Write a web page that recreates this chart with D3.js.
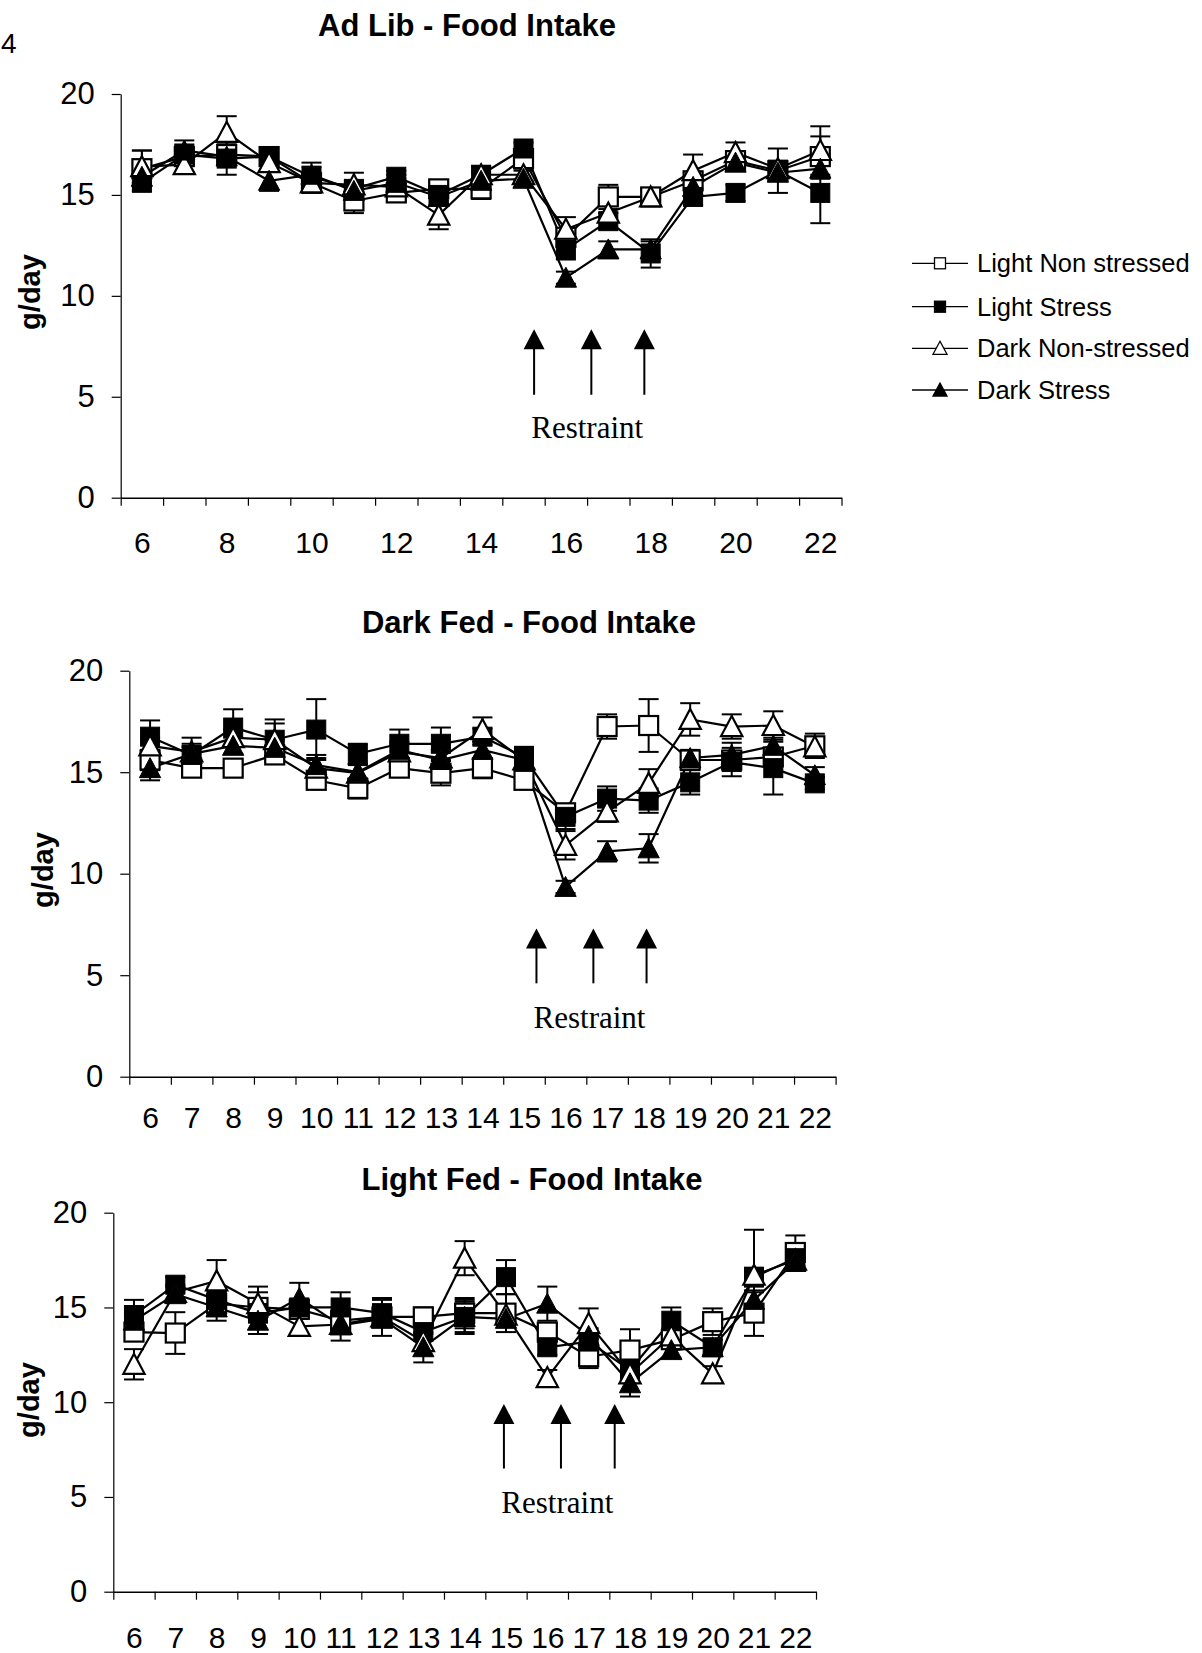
<!DOCTYPE html>
<html>
<head>
<meta charset="utf-8">
<script src="https://cdn.jsdelivr.net/npm/d3@7"></script>
<style>
  html, body { margin: 0; padding: 0; background: #fff; }
  svg { display: block; }
</style>
</head>
<body>
<svg id="chart" width="1202" height="1653"></svg>
<script>
// ---------------- DATA ----------------
const days = [6, 7, 8, 9, 10, 11, 12, 13, 14, 15, 16, 17, 18, 19, 20, 21, 22];
const seriesNames = ["Light Non stressed", "Light Stress", "Dark Non-stressed", "Dark Stress"];
const yTickValues = [0, 5, 10, 15, 20];
const adLibTickDays = [6, 8, 10, 12, 14, 16, 18, 20, 22];
const allTickDays = days;

// Ad Lib - Food Intake
const adLibLN = [16.3, 16.9, 17.0, 16.9, 15.6, 14.7, 15.1, 15.3, 15.3, 16.8, 12.9, 14.9, 14.9, 15.7, 16.7, 16.2, 16.9];
const adLibLS = [15.6, 17.0, 16.8, 16.9, 15.9, 15.3, 15.9, 15.0, 16.0, 17.3, 12.3, 13.7, 12.1, 14.9, 15.1, 16.2, 15.1];
const adLibDN = [16.4, 16.5, 18.1, 16.6, 15.6, 15.5, 15.4, 14.0, 16.0, 16.0, 13.3, 14.1, 14.9, 16.2, 17.1, 16.3, 17.2];
const adLibDS = [15.9, 17.2, 16.9, 15.7, 16.0, 15.2, 15.6, 14.9, 15.7, 15.8, 10.9, 12.3, 12.3, 15.4, 16.6, 16.1, 16.3];
const adLibLNerr = [0.9, 0.4, 0.5, 0.4, 0.5, 0.6, 0.4, 0.4, 0.5, 0.4, 0.4, 0.6, 0.3, 0.4, 0.4, 0.4, 1.0];
const adLibLSerr = [0.4, 0.5, 0.8, 0.4, 0.7, 0.4, 0.3, 0.4, 0.4, 0.3, 0.5, 0.4, 0.7, 0.4, 0.4, 1.1, 1.5];
const adLibDNerr = [0.8, 0.4, 0.8, 0.4, 0.4, 0.6, 0.4, 0.7, 0.4, 0.3, 0.6, 0.4, 0.3, 0.8, 0.5, 0.4, 1.2];
const adLibDSerr = [0.3, 0.5, 0.4, 0.5, 0.4, 0.4, 0.4, 0.4, 0.4, 0.4, 0.3, 0.4, 0.4, 0.4, 0.3, 0.4, 0.5];
const adLibArrowDays = [15.25, 16.6, 17.85];

// Dark Fed - Food Intake
const darkFedLN = [15.6, 15.2, 15.2, 15.85, 14.6, 14.2, 15.2, 14.95, 15.2, 14.6, 13.0, 17.25, 17.3, 15.6, 15.6, 15.75, 16.3];
const darkFedLS = [16.75, 15.85, 17.2, 16.6, 17.1, 15.9, 16.4, 16.4, 16.75, 15.75, 12.8, 13.7, 13.6, 14.5, 15.5, 15.2, 14.45];
const darkFedDN = [16.3, 16.0, 16.7, 16.6, 15.2, 14.95, 16.0, 15.7, 17.1, 15.6, 11.4, 13.05, 14.45, 17.6, 17.25, 17.3, 16.25];
const darkFedDS = [15.2, 15.9, 16.3, 16.2, 15.35, 15.0, 16.1, 15.6, 16.1, 15.6, 9.35, 11.1, 11.25, 15.7, 15.85, 16.3, 14.85];
const darkFedLNerr = [0.5, 0.3, 0.3, 0.3, 0.3, 0.5, 0.4, 0.6, 0.5, 0.3, 0.3, 0.6, 1.3, 0.4, 0.4, 0.4, 0.6];
const darkFedLSerr = [0.8, 0.4, 0.9, 0.8, 1.5, 0.5, 0.7, 0.8, 0.4, 0.5, 0.6, 0.6, 0.6, 0.6, 0.7, 1.3, 0.3];
const darkFedDNerr = [0.4, 0.7, 0.4, 1.0, 0.5, 0.4, 0.4, 0.4, 0.6, 0.4, 0.7, 0.5, 0.7, 0.8, 0.6, 0.7, 0.4];
const darkFedDSerr = [0.6, 0.5, 0.4, 0.4, 0.5, 0.4, 0.4, 0.4, 0.4, 0.4, 0.3, 0.5, 0.7, 0.4, 0.6, 0.4, 0.4];
const darkFedArrowDays = [15.3, 16.67, 17.95];

// Light Fed - Food Intake
const lightFedLN = [13.7, 13.65, 15.2, 15.0, 14.9, 14.3, 14.5, 14.5, 14.7, 14.7, 13.7, 12.4, 12.75, 13.3, 14.25, 14.7, 17.9];
const lightFedLS = [14.6, 16.2, 15.4, 14.7, 15.0, 15.0, 14.7, 13.7, 14.5, 16.6, 12.9, 13.2, 11.7, 14.3, 12.9, 16.6, 17.6];
const lightFedDN = [12.0, 15.8, 16.4, 15.2, 14.0, 14.1, 14.5, 13.2, 17.6, 14.6, 11.3, 14.15, 11.5, 13.5, 11.5, 16.7, 17.5];
const lightFedDS = [14.3, 15.7, 15.0, 14.3, 15.5, 14.05, 14.4, 12.9, 14.5, 14.4, 15.2, 13.5, 11.0, 12.75, 12.9, 15.4, 17.4];
const lightFedLNerr = [0.4, 1.1, 0.9, 0.8, 0.4, 0.4, 0.4, 0.5, 0.8, 1.0, 0.4, 0.6, 1.1, 0.4, 0.7, 1.2, 0.9];
const lightFedLSerr = [0.8, 0.4, 0.4, 0.4, 0.4, 0.8, 0.7, 0.4, 0.9, 0.9, 0.4, 0.4, 0.4, 0.7, 0.4, 0.5, 0.4];
const lightFedDNerr = [0.8, 0.4, 1.1, 0.9, 0.4, 0.4, 1.0, 0.4, 0.9, 0.5, 0.4, 0.8, 0.4, 0.4, 0.4, 2.4, 0.4];
const lightFedDSerr = [0.4, 0.4, 0.4, 0.7, 0.8, 0.8, 0.4, 0.8, 0.8, 0.4, 0.9, 0.4, 0.7, 0.4, 0.4, 0.4, 0.4];
const lightFedArrowDays = [14.95, 16.33, 17.63];

// ---------------- LAYOUT ----------------
const SANS = "'Liberation Sans', Arial, Helvetica, sans-serif";
const SERIF = "'Liberation Serif', 'Times New Roman', Times, serif";
const markerKinds = ["openSquare", "filledSquare", "openTriangle", "filledTriangle"];

const panels = [
  { title: "Ad Lib - Food Intake", titleX: 467, titleY: 36,
    xl: 120.7, xr: 841.5, yTop: 94, yBot: 497.7, tickDays: adLibTickDays, labelOffset: 34,
    yLabelX: 30, yLabelY: 292,
    values: [adLibLN, adLibLS, adLibDN, adLibDS], errs: [adLibLNerr, adLibLSerr, adLibDNerr, adLibDSerr],
    arrowDays: adLibArrowDays, arrowTip: 8.35, arrowEnd: 5.1, textBase: 2.95 },
  { title: "Dark Fed - Food Intake", titleX: 529, titleY: 633,
    xl: 129.3, xr: 835.6, yTop: 670.7, yBot: 1076.7, tickDays: allTickDays, labelOffset: 30,
    yLabelX: 43, yLabelY: 870,
    values: [darkFedLN, darkFedLS, darkFedDN, darkFedDS], errs: [darkFedLNerr, darkFedLSerr, darkFedDNerr, darkFedDSerr],
    arrowDays: darkFedArrowDays, arrowTip: 7.3, arrowEnd: 4.6, textBase: 2.4 },
  { title: "Light Fed - Food Intake", titleX: 532, titleY: 1190,
    xl: 113.3, xr: 816, yTop: 1212.7, yBot: 1591.7, tickDays: allTickDays, labelOffset: 35,
    yLabelX: 29, yLabelY: 1400,
    values: [lightFedLN, lightFedLS, lightFedDN, lightFedDS], errs: [lightFedLNerr, lightFedLSerr, lightFedDNerr, lightFedDSerr],
    arrowDays: lightFedArrowDays, arrowTip: 9.9, arrowEnd: 6.5, textBase: 4.15 }
];

const svg = d3.select("#chart");
svg.append("rect").attr("width", 1202).attr("height", 1653).attr("fill", "#fff");

// figure number at top-left
svg.append("text").attr("x", 1).attr("y", 53).attr("text-anchor", "start")
  .attr("font-family", SANS).attr("font-size", 28).text("4");

function drawMarker(g, kind, x, y, s) {
  const open = kind.startsWith("open");
  if (kind.endsWith("Square")) {
    g.append("rect").attr("x", x - s / 2).attr("y", y - s / 2).attr("width", s).attr("height", s)
      .attr("fill", open ? "#fff" : "#000").attr("stroke", "#000").attr("stroke-width", open ? 2.2 : 1);
  } else {
    const w = s * 1.12, h = s;
    g.append("path")
      .attr("d", `M${x},${y - h / 2 - 1}L${x + w / 2},${y + h / 2}L${x - w / 2},${y + h / 2}Z`)
      .attr("fill", open ? "#fff" : "#000").attr("stroke", "#000").attr("stroke-width", open ? 2.2 : 1)
      .attr("stroke-linejoin", "miter");
  }
}

panels.forEach(p => {
  const x = d3.scaleLinear().domain([days[0] - 0.5, days[days.length - 1] + 0.5]).range([p.xl, p.xr]);
  const y = d3.scaleLinear().domain([0, 20]).range([p.yBot, p.yTop]);
  const g = svg.append("g");

  // title
  g.append("text").attr("x", p.titleX).attr("y", p.titleY).attr("text-anchor", "middle")
    .attr("font-family", SANS).attr("font-weight", "bold").attr("font-size", 31).text(p.title);

  // y axis
  const yAxis = g.append("g").attr("transform", `translate(${p.xl},0)`)
    .call(d3.axisLeft(y).tickValues(yTickValues).tickSize(9).tickPadding(17).tickSizeOuter(0));
  yAxis.select(".domain").attr("stroke", "#000").attr("stroke-width", 1.2);
  yAxis.selectAll(".tick line").attr("stroke", "#000").attr("stroke-width", 1.2);
  yAxis.selectAll(".tick text").attr("font-family", SANS).attr("font-size", 31).attr("fill", "#000");

  // x axis: boundary ticks
  const boundaries = d3.range(days.length + 1).map(i => days[0] - 0.5 + i);
  const xAxisTicks = g.append("g").attr("transform", `translate(0,${p.yBot})`)
    .call(d3.axisBottom(x).tickValues(boundaries).tickSize(8).tickFormat("").tickSizeOuter(0));
  xAxisTicks.select(".domain").attr("stroke", "#000").attr("stroke-width", 1.4);
  xAxisTicks.selectAll(".tick line").attr("stroke", "#000").attr("stroke-width", 1.2);
  // x labels at category centres
  const xAxisLabels = g.append("g").attr("transform", `translate(0,${p.yBot})`)
    .call(d3.axisBottom(x).tickValues(p.tickDays).tickSize(0).tickPadding(p.labelOffset).tickFormat(d3.format("d")));
  xAxisLabels.select(".domain").remove();
  xAxisLabels.selectAll(".tick text").attr("font-family", SANS).attr("font-size", 30).attr("fill", "#000");

  // y label
  g.append("text").attr("transform", `translate(${p.yLabelX},${p.yLabelY}) rotate(-90)`)
    .attr("text-anchor", "middle").attr("dy", "0.35em")
    .attr("font-family", SANS).attr("font-weight", "bold").attr("font-size", 29).text("g/day");

  // error bars
  p.values.forEach((vals, si) => {
    const errs = p.errs[si];
    const eb = g.append("g").attr("stroke", "#000").attr("stroke-width", 2);
    vals.forEach((v, i) => {
      const cx = x(days[i]);
      const y1 = y(v + errs[i]), y2 = y(v - errs[i]);
      eb.append("line").attr("x1", cx).attr("x2", cx).attr("y1", y1).attr("y2", y2);
      eb.append("line").attr("x1", cx - 10).attr("x2", cx + 10).attr("y1", y1).attr("y2", y1);
      eb.append("line").attr("x1", cx - 10).attr("x2", cx + 10).attr("y1", y2).attr("y2", y2);
    });
  });

  // lines
  const line = d3.line().x((d, i) => x(days[i])).y(d => y(d));
  p.values.forEach(vals => {
    g.append("path").attr("d", line(vals)).attr("fill", "none")
      .attr("stroke", "#000").attr("stroke-width", 2.2);
  });

  // markers
  p.values.forEach((vals, si) => {
    const mg = g.append("g");
    vals.forEach((v, i) => drawMarker(mg, markerKinds[si], x(days[i]), y(v), 19));
  });

  // restraint arrows
  p.arrowDays.forEach(d => {
    const ax = x(d), tip = y(p.arrowTip), end = y(p.arrowEnd);
    g.append("line").attr("x1", ax).attr("x2", ax).attr("y1", tip + 12).attr("y2", end)
      .attr("stroke", "#000").attr("stroke-width", 2);
    g.append("path").attr("d", `M${ax},${tip}L${ax + 10.5},${tip + 20}L${ax - 10.5},${tip + 20}Z`).attr("fill", "#000");
  });
  const midX = (x(p.arrowDays[0]) + x(p.arrowDays[p.arrowDays.length - 1])) / 2;
  g.append("text").attr("x", midX - 2).attr("y", y(p.textBase)).attr("text-anchor", "middle")
    .attr("font-family", SERIF).attr("font-size", 31).text("Restraint");
});

// legend
const legendRows = [263.3, 306.7, 348.3, 390];
const lg = svg.append("g");
seriesNames.forEach((name, i) => {
  const ly = legendRows[i];
  lg.append("line").attr("x1", 912).attr("x2", 968).attr("y1", ly).attr("y2", ly)
    .attr("stroke", "#000").attr("stroke-width", 1.3);
  const kind = markerKinds[i];
  if (kind.endsWith("Square")) {
    lg.append("rect").attr("x", 940 - 5.5).attr("y", ly - 5.5).attr("width", 11).attr("height", 11)
      .attr("fill", kind.startsWith("open") ? "#fff" : "#000").attr("stroke", "#000").attr("stroke-width", 1.3);
  } else {
    lg.append("path").attr("d", `M940,${ly - 7}L947,${ly + 6}L933,${ly + 6}Z`)
      .attr("fill", kind.startsWith("open") ? "#fff" : "#000").attr("stroke", "#000").attr("stroke-width", 1.3);
  }
  lg.append("text").attr("x", 977).attr("y", ly).attr("dy", "0.35em")
    .attr("font-family", SANS).attr("font-size", 25.5).text(name);
});
</script>
</body>
</html>
